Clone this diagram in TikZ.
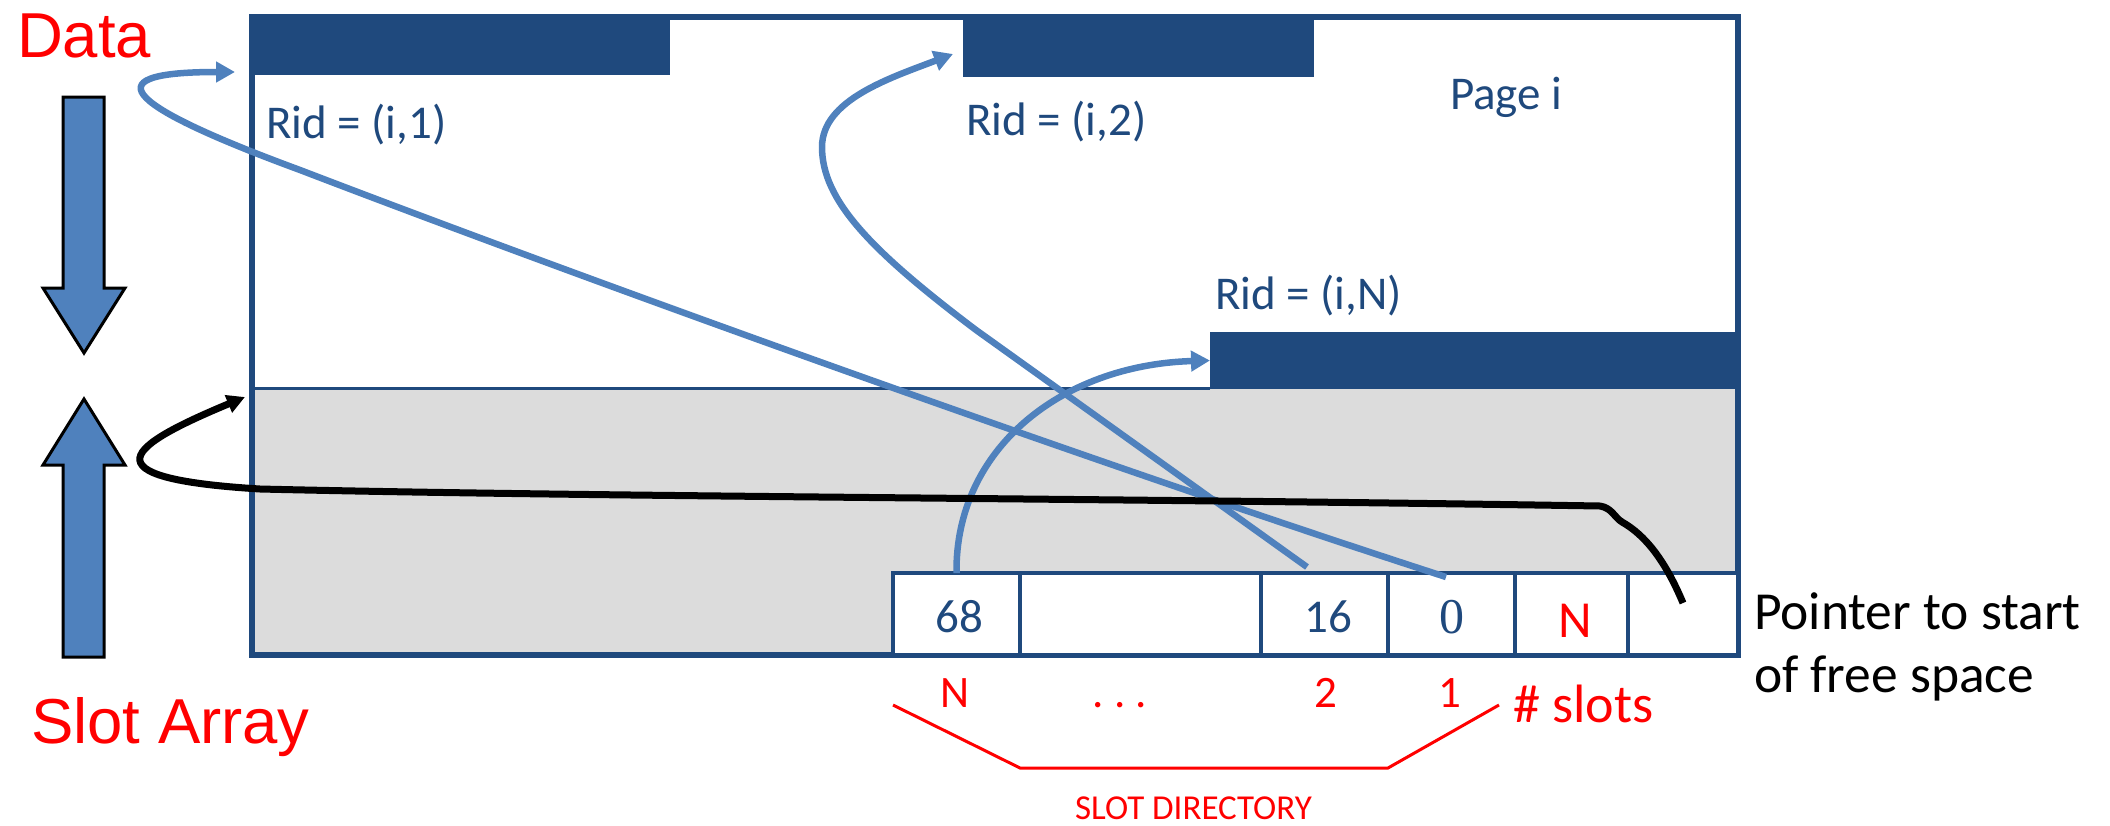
\documentclass[tikz,border=0pt]{standalone}
\usepackage{fontspec}
\setmainfont{Carlito}
\newfontfamily\arialf{Liberation Sans}
\newfontfamily\seriff{Liberation Serif}
\usetikzlibrary{arrows.meta}
\definecolor{dblue}{RGB}{31,73,125}
\definecolor{ablue}{RGB}{79,129,189}
\definecolor{pgray}{RGB}{220,220,220}
\definecolor{rred}{RGB}{255,0,0}
\begin{document}
\begin{tikzpicture}[x=1pt,y=-1pt,
  blk/.style={fill=dblue, inner sep=0pt, outer sep=0pt, anchor=north west},
  slotbox/.style={draw=dblue, line width=4.5pt, fill=white, inner sep=0pt, outer sep=0pt, anchor=north west, minimum height=82pt},
  lbl/.style={inner sep=0pt, outer sep=0pt, anchor=base west},
  ridtxt/.style={lbl, text=dblue, font=\fontsize{47}{56}\selectfont},
  bigred/.style={lbl, text=rred, font=\arialf\fontsize{63.5}{76}\selectfont},
  val/.style={inner sep=0pt, outer sep=0pt, anchor=base, text=dblue, font=\fontsize{47}{56}\selectfont},
  redlbl/.style={inner sep=0pt, outer sep=0pt, anchor=base, text=rred, font=\fontsize{45}{54}\selectfont},
  conn/.style={draw=ablue, line width=6.5pt, -{Triangle[length=19pt,width=20pt]}},
  ptr/.style={draw=black, line width=7pt, -{Triangle[length=18pt,width=18pt]}},
  bigarrow/.style={fill=ablue, draw=black, line width=3pt, line join=miter},
  bracketline/.style={draw=rred, line width=3pt}
]
\useasboundingbox (0,0) rectangle (2110,825);

% gray slot region
\node[fill=pgray, draw=dblue!60, line width=2pt, inner sep=0pt, outer sep=0pt, anchor=north west,
      minimum width=1485pt, minimum height=267pt] (gray) at (253,388) {};
% data blocks
\node[blk, minimum width=418pt, minimum height=58pt] (blk1) at (252,17) {};
\node[blk, minimum width=351pt, minimum height=60pt] (blk2) at (963,17) {};
\node[blk, minimum width=528pt, minimum height=57pt] (blkN) at (1210,332) {};
% page outline
\node[draw=dblue, line width=6.5pt, inner sep=0pt, outer sep=0pt, anchor=north west,
      minimum width=1486pt, minimum height=638pt] (page) at (252,17) {};
\draw[dblue, line width=3pt] (gray.north west) -- (gray.north west -| blkN.west);

% slot directory boxes
\node[slotbox, minimum width=127pt] (sN) at (893,573) {};
\node[slotbox, minimum width=241pt] (sD) at (1020,573) {};
\node[slotbox, minimum width=127pt] (s2) at (1261,573) {};
\node[slotbox, minimum width=127pt] (s1) at (1388,573) {};
\node[slotbox, minimum width=113pt] (sC) at (1515,573) {};
\node[slotbox, minimum width=110pt] (sF) at (1628,573) {};

% big block arrows
\draw[bigarrow] (63,97) -- (104,97) -- (104,288) -- (125,288) -- (84,353) -- (43,288) -- (63,288) -- cycle;
\draw[bigarrow] (84,399) -- (125,465) -- (104,465) -- (104,657) -- (63,657) -- (63,465) -- (43,465) -- cycle;

% texts
\node[bigred] (tdata) at (17,57) {Data};
\node[bigred] (tslot) at (31,743) {Slot Array};
\node[ridtxt] (r1) at (266,138) {Rid = (i,1)};
\node[ridtxt] (r2) at (966,135) {Rid = (i,2)};
\node[ridtxt] (rN) at (1215,309) {Rid = (i,N)};
\node[ridtxt] (pg) at (1450,109) {Page i};
\node[val] (v68) at (959,632) {68};
\node[val] (v16) at (1328,632) {16};
\node[val, font=\seriff\fontsize{50}{60}\selectfont] (v0) at (1452,633) {0};
\node[redlbl, font=\fontsize{52}{62}\selectfont] (vN) at (1575,637) {N};
\node[redlbl] (lN) at (955,707) {N};
\node[redlbl] (ldots) at (1120,707) {.\ .\ .};
\node[redlbl] (l2) at (1326,707) {2};
\node[redlbl] (l1) at (1450,707) {1};
\node[redlbl, anchor=base west, font=\fontsize{54}{64}\selectfont] (lslots) at (1513,722) {\# slots};
\node[redlbl, anchor=base west, font=\fontsize{35}{42}\selectfont] (ldir) at (1075,819) {SLOT DIRECTORY};
\node[lbl, font=\fontsize{53.5}{64}\selectfont] (p1) at (1754,629) {Pointer to start};
\node[lbl, font=\fontsize{53.5}{64}\selectfont] (p2) at (1754,692) {of free space};

% red bracket
\draw[bracketline] (893,705) -- (1020,768) -- (1388,768) -- (1499,705);

% connectors
\draw[conn] ([xshift=-5.5pt,yshift=-4pt]s1.north) .. controls (1100,465) and (600,285) .. (300,170)
   .. controls (110,100) and (100,72) .. ([xshift=-17pt,yshift=3pt]blk1.south west);
\draw[conn] ([xshift=-17.5pt,yshift=6pt]s2.north) -- (976,330) .. controls (870,250) and (822,200) .. (822,147)
   .. controls (822,100) and (890,78) .. ([xshift=-10pt,yshift=-7pt]blk2.west);
\draw[conn] (sN.north) .. controls (955,450) and (1060,365) .. (blkN.west);
\draw[ptr] ([yshift=-30pt]sF.north) .. controls (1665,560) and (1645,535) .. (1622,522)
   .. controls (1614,517) and (1612,508) .. (1600,506)
   .. controls (1100,498) and (600,497) .. (260,489)
   .. controls (80,478) and (130,445) .. ([xshift=-8pt,yshift=-9pt]gray.north west);
\end{tikzpicture}
\end{document}
